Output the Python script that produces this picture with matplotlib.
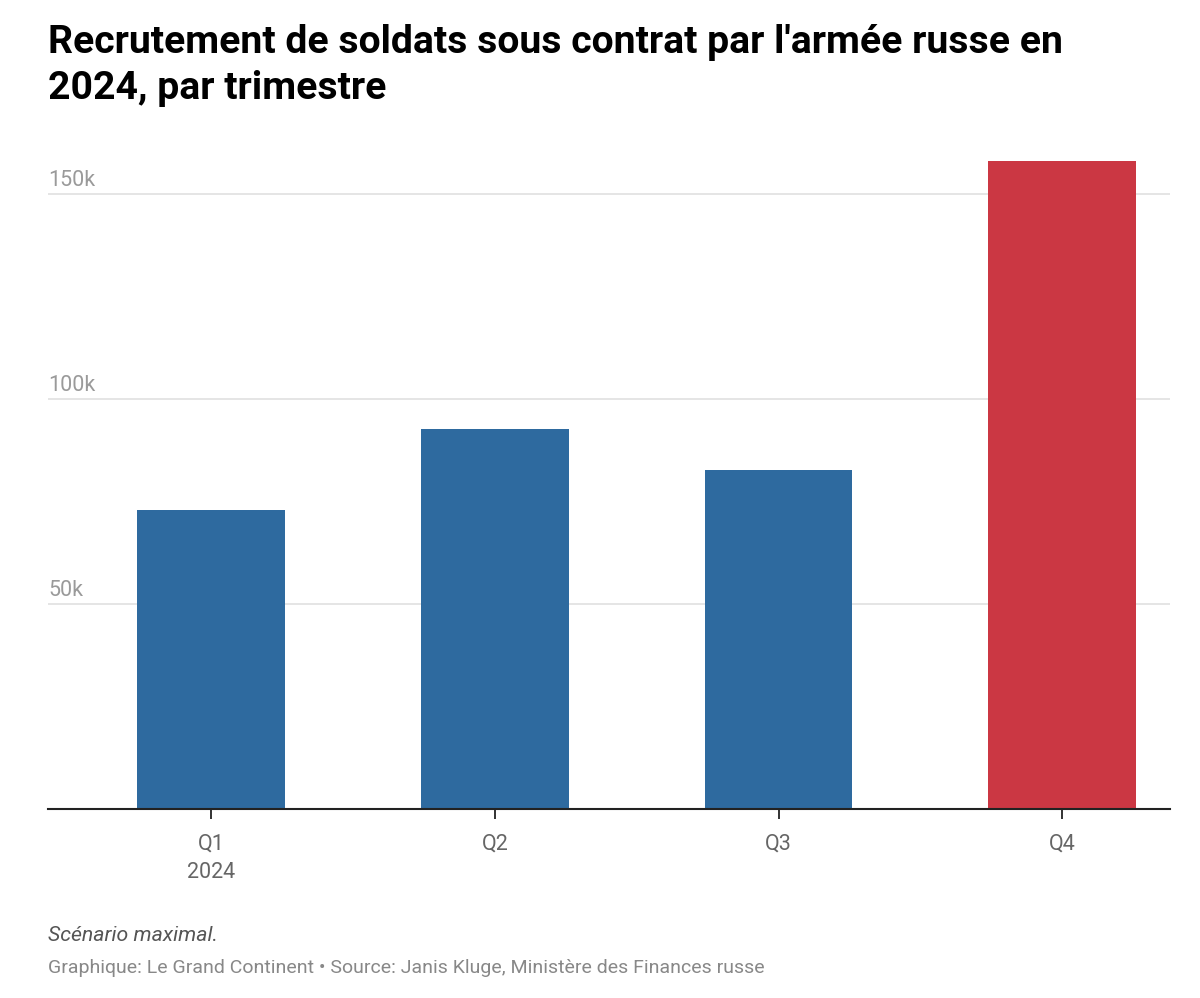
import matplotlib.pyplot as plt

# data (recruits per quarter, 2024)
quarters = ['Q1\n2024', 'Q2', 'Q3', 'Q4']
recruits = [73000, 92700, 82700, 158000]
bar_colors = ['#2e6a9f', '#2e6a9f', '#2e6a9f', '#cb3743']
y_ticks = [50000, 100000, 150000]

plt.rcParams['font.family'] = ['Roboto', 'DejaVu Sans']

fig = plt.figure(figsize=(12, 9.98), dpi=100)
ax = fig.add_axes([0.04, 0.1894, 0.935, 0.6573])

x = range(len(quarters))
ax.bar(x, recruits, width=0.52, color=bar_colors, zorder=3)

ax.set_xlim(-0.575, 3.38)
ax.set_ylim(0, 160000)
ax.set_xticks(list(x))
ax.set_xticklabels(quarters, fontsize=15.5, color='#666666', linespacing=1.45)
ax.tick_params(axis='x', length=7, width=1.3, color='#222222', pad=11)

ax.set_yticks(y_ticks)
ax.yaxis.grid(True, color='#e3e3e3', linewidth=1.3, zorder=0)
ax.tick_params(axis='y', length=0, labelleft=False)
for v in y_ticks:
    ax.annotate(f'{v // 1000}k', xy=(0, v), xycoords=('axes fraction', 'data'),
                xytext=(0, 2.5), textcoords='offset points',
                ha='left', va='bottom', fontsize=15.5, color='#9a9a9a')

for side in ['top', 'right', 'left']:
    ax.spines[side].set_visible(False)
ax.spines['bottom'].set_color('#222222')
ax.spines['bottom'].set_linewidth(1.5)
ax.spines['bottom'].set_zorder(4)

fig.text(0.04, 0.976, "Recrutement de soldats sous contrat par l'armée russe en\n2024, par trimestre",
         ha='left', va='top', fontsize=28.2, fontweight='bold', color='#000000', linespacing=1.3)

fig.text(0.04, 0.053, 'Scénario maximal.', ha='left', va='bottom',
         fontsize=15.3, style='italic', color='#555555')
fig.text(0.04, 0.021, 'Graphique: Le Grand Continent • Source: Janis Kluge, Ministère des Finances russe',
         ha='left', va='bottom', fontsize=14, color='#888888')

fig.savefig('out.png', dpi=100, facecolor='white')
